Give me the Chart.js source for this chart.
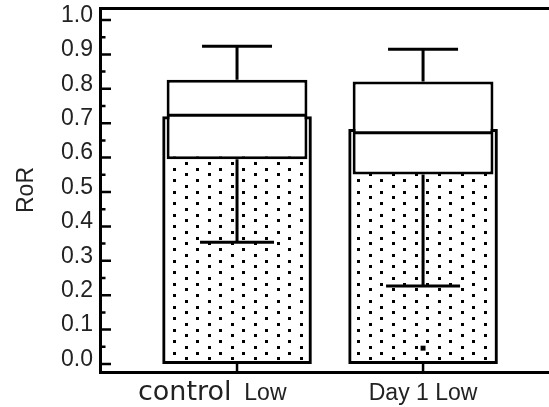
<!DOCTYPE html>
<html>
<head>
<meta charset="utf-8">
<script src="https://cdn.jsdelivr.net/npm/chart.js@4.4.0/dist/chart.umd.min.js"></script>
<style>
  html, body { margin: 0; padding: 0; background: #fff; overflow: hidden; }
  #wrap { width: 549px; height: 407px; }
</style>
</head>
<body>
<div id="wrap"><canvas id="c" width="549" height="407"></canvas></div>
<script>
// RoR box plots drawn over stippled bars, control vs Day 1 (Low).

const groupNames = ["control", "Day 1"];
const doseLabel = "Low";
const groupPos = [1, 2];

const barValues = [0.72, 0.683];
const whiskerLow = [0.354, 0.227];
const boxLow = [0.595, 0.551];
const medians = [0.723, 0.672];
const boxHigh = [0.826, 0.821];
const whiskerHigh = [0.924, 0.915];
const outlierPos = [2];
const outlierValues = [0.046];

const yTicks = [0, 0.1, 0.2, 0.3, 0.4, 0.5, 0.6, 0.7, 0.8, 0.9, 1.0];
const yTickLabels = ["0.0", "0.1", "0.2", "0.3", "0.4", "0.5", "0.6", "0.7", "0.8", "0.9", "1.0"];
const yMinorTicks = [0.05, 0.15, 0.25, 0.35, 0.45, 0.55, 0.65, 0.75, 0.85, 0.95];

const X_MIN = 0.2634, X_MAX = 2.677;
const Y_MIN = -0.0233, Y_MAX = 1.0349;
const INK = "#222";
const SANS = "'Liberation Sans', Arial, sans-serif";

const canvas = document.getElementById("c");

// dotted fill for the bars
function makeStipple() {
  const tile = document.createElement("canvas");
  tile.width = 23;
  tile.height = 23;
  const t = tile.getContext("2d");
  t.fillStyle = "#000";
  [[1, 1], [1, 12], [12, 7], [12, 18]].forEach(([x, y]) => t.fillRect(x, y, 3, 3));
  return canvas.getContext("2d").createPattern(tile, "repeat");
}

const whiskerPts = [];
groupPos.forEach((x, i) => {
  whiskerPts.push(
    { x, y: whiskerLow[i] }, { x, y: boxLow[i] }, { x, y: null },
    { x, y: boxHigh[i] }, { x, y: whiskerHigh[i] }, { x, y: null }
  );
});

// no extra room for labels that stick out past the plot frame
const noScalePadding = (s) => {
  s.paddingTop = 0;
  s.paddingBottom = 0;
  s.paddingLeft = 0;
  s.paddingRight = 0;
};

// inward tick marks and the x labels
const axisDecor = {
  id: "axisDecor",
  afterDatasetsDraw(chart) {
    const { ctx, chartArea, scales: { x, y } } = chart;
    ctx.save();
    ctx.strokeStyle = "#000";
    ctx.lineWidth = 2.5;
    ctx.beginPath();
    yTicks.forEach(v => {
      const py = y.getPixelForValue(v);
      ctx.moveTo(chartArea.left, py);
      ctx.lineTo(chartArea.left + 11, py);
    });
    yMinorTicks.forEach(v => {
      const py = y.getPixelForValue(v);
      ctx.moveTo(chartArea.left, py);
      ctx.lineTo(chartArea.left + 5.5, py);
    });
    groupPos.forEach(v => {
      const px = x.getPixelForValue(v);
      ctx.moveTo(px, chartArea.bottom);
      ctx.lineTo(px, chartArea.bottom - 8);
    });
    ctx.stroke();

    ctx.fillStyle = INK;
    ctx.textBaseline = "alphabetic";
    const base = chartArea.bottom + 27.5;
    const p0 = x.getPixelForValue(groupPos[0]);
    ctx.font = "27px 'DejaVu Sans', sans-serif";
    ctx.textAlign = "right";
    ctx.fillText(groupNames[0], p0 - 5.5, base);
    ctx.font = "23px " + SANS;
    ctx.textAlign = "left";
    ctx.fillText(doseLabel, p0 + 7.3, base);
    const p1 = x.getPixelForValue(groupPos[1]);
    ctx.textAlign = "center";
    ctx.fillText(groupNames[1] + " " + doseLabel, p1, base);
    ctx.restore();
  },
};

new Chart(canvas, {
  type: "bar",
  data: {
    datasets: [
      {
        type: "line",
        label: "outliers",
        data: outlierPos.map((x, i) => ({ x, y: outlierValues[i] })),
        showLine: false,
        pointStyle: "rect",
        pointRadius: 3.5,
        pointBorderWidth: 0,
        pointBackgroundColor: "#000",
        order: 1,
      },
      {
        type: "line",
        label: "medians",
        data: groupPos.map((x, i) => ({ x, y: medians[i] })),
        showLine: false,
        pointStyle: "line",
        pointRadius: 70,
        pointBorderWidth: 3,
        pointBorderColor: "#000",
        order: 1,
      },
      {
        type: "line",
        label: "upper caps",
        data: groupPos.map((x, i) => ({ x, y: whiskerHigh[i] })),
        showLine: false,
        pointStyle: "line",
        pointRadius: 35,
        pointBorderWidth: 3,
        pointBorderColor: "#000",
        order: 1,
      },
      {
        type: "line",
        label: "lower caps",
        data: groupPos.map((x, i) => ({ x, y: whiskerLow[i] })),
        showLine: false,
        pointStyle: "line",
        pointRadius: 37,
        pointBorderWidth: 3,
        pointBorderColor: "#000",
        order: 1,
      },
      {
        type: "line",
        label: "whiskers",
        data: whiskerPts,
        borderColor: "#000",
        borderWidth: 3,
        pointRadius: 0,
        spanGaps: false,
        order: 2,
      },
      {
        label: "box",
        data: groupPos.map((x, i) => ({ x, y: [boxLow[i], boxHigh[i]] })),
        backgroundColor: "#fff",
        borderColor: "#000",
        borderWidth: 3,
        borderSkipped: false,
        grouped: false,
        barPercentage: 0.757,
        categoryPercentage: 1,
        order: 3,
      },
      {
        label: "RoR",
        data: groupPos.map((x, i) => ({ x, y: barValues[i] })),
        backgroundColor: makeStipple(),
        borderColor: "#000",
        borderWidth: 3,
        borderSkipped: false,
        grouped: false,
        barPercentage: 0.804,
        categoryPercentage: 1,
        order: 4,
      },
    ],
  },
  options: {
    responsive: false,
    animation: false,
    events: [],
    layout: { autoPadding: false, padding: { top: 8, right: 0, bottom: 0, left: 0 } },
    plugins: { legend: { display: false }, tooltip: { enabled: false } },
    scales: {
      x: {
        type: "linear",
        position: "bottom",
        min: X_MIN,
        max: X_MAX,
        offset: false,
        afterBuildTicks: (s) => { s.ticks = groupPos.map(v => ({ value: v })); },
        afterFit: (s) => { s.height = 35; noScalePadding(s); },
        ticks: { display: false, autoSkip: false },
        grid: { display: false, drawTicks: false },
        border: { display: true, color: "#000", width: 3 },
      },
      xTop: {
        type: "linear",
        position: "top",
        min: X_MIN,
        max: X_MAX,
        afterFit: (s) => { s.height = 0; noScalePadding(s); },
        ticks: { display: false },
        grid: { display: false, drawTicks: false },
        border: { display: true, color: "#000", width: 3 },
      },
      y: {
        type: "linear",
        min: Y_MIN,
        max: Y_MAX,
        afterBuildTicks: (s) => { s.ticks = yTicks.map(v => ({ value: v })); },
        afterFit: (s) => { s.width = 100; noScalePadding(s); },
        ticks: {
          callback: (v, i) => yTickLabels[i],
          autoSkip: false,
          color: INK,
          font: { family: SANS, size: 23 },
          padding: 7,
          labelOffset: -4.5,
        },
        grid: { display: false, drawTicks: false },
        border: { display: true, color: "#000", width: 3 },
        title: {
          display: true,
          text: "RoR",
          color: INK,
          font: { family: SANS, size: 23 },
          padding: { top: 13, bottom: 0 },
        },
      },
    },
  },
  plugins: [axisDecor],
});
</script>
</body>
</html>
